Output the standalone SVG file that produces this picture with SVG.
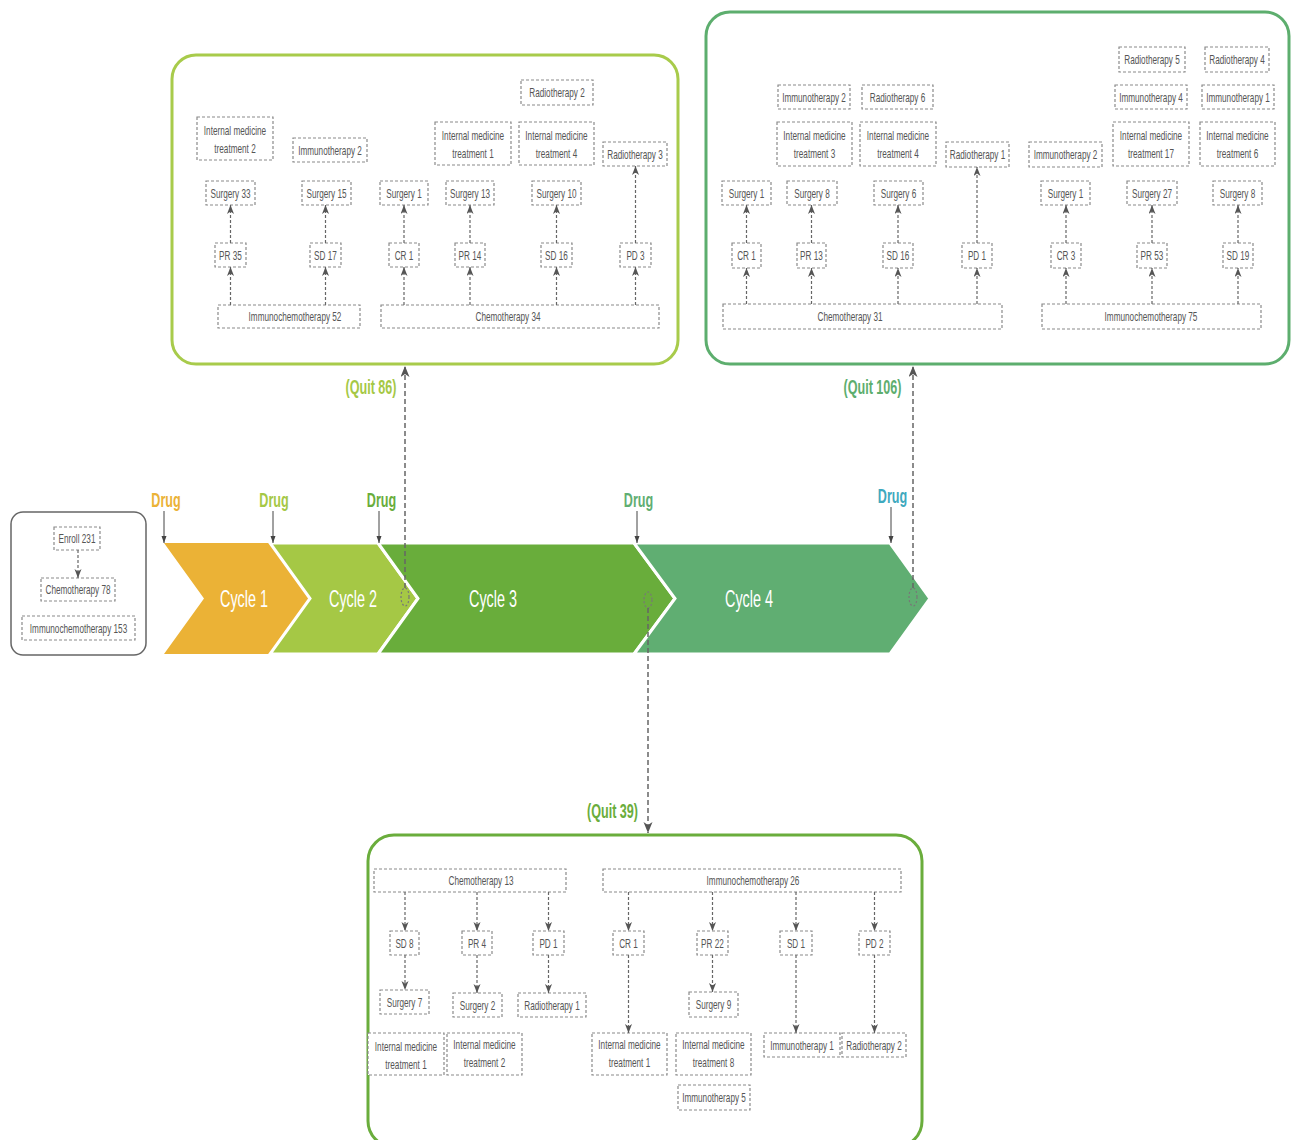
<svg xmlns="http://www.w3.org/2000/svg" width="1291" height="1140" viewBox="0 0 1291 1140">
<style>
.b{fill:#fff;stroke:#8a8a8a;stroke-width:1.2;stroke-dasharray:3 2}
.t{font-family:"Liberation Sans",Arial,sans-serif;font-size:13px;fill:#555;text-anchor:middle}
.bt{font-family:"Liberation Sans",Arial,sans-serif;font-size:20px;font-weight:bold;text-anchor:middle}
.cy{font-family:"Liberation Sans",Arial,sans-serif;font-size:24px;fill:#fff;text-anchor:middle}
.c{stroke:#666;stroke-width:1.2;stroke-dasharray:3 2;fill:none;marker-end:url(#a)}
.q{stroke:#666;stroke-width:1.5;stroke-dasharray:5 3;fill:none;marker-end:url(#qa)}
.d{stroke:#444;stroke-width:1;fill:none;marker-end:url(#da)}
.o{fill:none;stroke:#777;stroke-width:1.2;stroke-dasharray:2 2}
.frame{fill:#fff;stroke-width:3}
</style>
<defs>
<marker id="a" markerUnits="userSpaceOnUse" markerWidth="10" markerHeight="8" refX="9" refY="3.5" orient="auto"><path d="M0,0 L9,3.5 L0,7 L2.5,3.5 z" fill="#555"/></marker>
<marker id="qa" markerUnits="userSpaceOnUse" markerWidth="12" markerHeight="10" refX="11" refY="4.5" orient="auto"><path d="M0,0 L11,4.5 L0,9 L3,4.5 z" fill="#555"/></marker>
<marker id="da" markerUnits="userSpaceOnUse" markerWidth="8" markerHeight="6" refX="7" refY="2.5" orient="auto"><path d="M0,0 L7,2.5 L0,5 z" fill="#444"/></marker>
</defs>
<rect width="1291" height="1140" fill="#fff"/>

<!-- frames -->
<rect id="frame-top-left" class="frame" x="172" y="55" width="506" height="309" rx="24" stroke="#A8CB4B"/>
<rect id="frame-top-right" class="frame" x="706" y="12" width="583" height="352" rx="24" stroke="#5DAE6E"/>
<rect id="frame-bottom" class="frame" x="368" y="835" width="554" height="312" rx="26" stroke="#6AAD3C"/>
<rect id="frame-enroll" x="11" y="512" width="135" height="143" rx="12" fill="#fff" stroke="#666" stroke-width="1.5"/>

<!-- chevrons -->
<g id="cycle1"><polygon points="164,543 269,543 309,598.5 269,654 164,654 204,598.5" fill="#EBB236"/><text class="cy" transform="translate(244 606.5) scale(.6 1)">Cycle 1</text></g>
<g id="cycle2"><polygon points="270,543 378,543 418,598.5 378,654 270,654 310,598.5" fill="#A5C845" stroke="#fff" stroke-width="3"/><text class="cy" transform="translate(353 606.5) scale(.6 1)">Cycle 2</text></g>
<g id="cycle3"><polygon points="378,543 634,543 675,598.5 634,654 378,654 418,598.5" fill="#69AD3B" stroke="#fff" stroke-width="3"/><text class="cy" transform="translate(493 606.5) scale(.6 1)">Cycle 3</text></g>
<g id="cycle4"><polygon points="634,543 890,543 930,598.5 890,654 634,654 675,598.5" fill="#60AE72" stroke="#fff" stroke-width="3"/><text class="cy" transform="translate(749 606.5) scale(.6 1)">Cycle 4</text></g>

<!-- drug labels -->
<g id="drug1"><text class="bt" fill="#EBB236" transform="translate(166 507) scale(.63 1)">Drug</text></g>
<g id="drug2"><text class="bt" fill="#A5C845" transform="translate(274 507) scale(.63 1)">Drug</text></g>
<g id="drug3"><text class="bt" fill="#69AD3B" transform="translate(381.5 507) scale(.63 1)">Drug</text></g>
<g id="drug4"><text class="bt" fill="#60AE72" transform="translate(638.5 507) scale(.63 1)">Drug</text></g>
<g id="drug5"><text class="bt" fill="#3FA9BE" transform="translate(892.5 503) scale(.63 1)">Drug</text></g>

<!-- quit labels and markers -->
<g id="quit86"><ellipse class="o" cx="405" cy="597" rx="4" ry="9"/><text class="bt" fill="#A5C845" transform="translate(371 394) scale(.63 1)">(Quit 86)</text></g>
<g id="quit106"><ellipse class="o" cx="913" cy="597" rx="4" ry="9"/><text class="bt" fill="#5DAE6E" transform="translate(872.5 394) scale(.63 1)">(Quit 106)</text></g>
<g id="quit39"><ellipse class="o" cx="648" cy="600" rx="4" ry="8"/><text class="bt" fill="#6AAD3C" transform="translate(612.5 818) scale(.63 1)">(Quit 39)</text></g>

<!-- enroll nodes -->
<g id="enroll"><rect class="b" x="54" y="527" width="46" height="23"/><text class="t" transform="translate(77 543) scale(.63 1)">Enroll 231</text></g>
<g id="enroll-chemo"><rect class="b" x="41" y="578" width="74" height="23"/><text class="t" transform="translate(78 594) scale(.63 1)">Chemotherapy 78</text></g>
<g id="enroll-immunochemo"><rect class="b" x="22" y="616" width="113" height="24"/><text class="t" transform="translate(78.5 632.5) scale(.63 1)">Immunochemotherapy 153</text></g>

<!-- top-left nodes -->
<g id="tl-imt2"><rect class="b" x="197" y="117" width="76" height="43"/><text class="t" transform="translate(235 135) scale(.63 1)">Internal medicine</text><text class="t" transform="translate(235 153) scale(.63 1)">treatment 2</text></g>
<g id="tl-immuno2"><rect class="b" x="293" y="138" width="74" height="24"/><text class="t" transform="translate(330 154.5) scale(.63 1)">Immunotherapy 2</text></g>
<g id="tl-rad2"><rect class="b" x="521" y="80" width="72" height="25"/><text class="t" transform="translate(557 97) scale(.63 1)">Radiotherapy 2</text></g>
<g id="tl-imt1"><rect class="b" x="435" y="122" width="76" height="43"/><text class="t" transform="translate(473 140) scale(.63 1)">Internal medicine</text><text class="t" transform="translate(473 158) scale(.63 1)">treatment 1</text></g>
<g id="tl-imt4"><rect class="b" x="519" y="122" width="75" height="43"/><text class="t" transform="translate(556.5 140) scale(.63 1)">Internal medicine</text><text class="t" transform="translate(556.5 158) scale(.63 1)">treatment 4</text></g>
<g id="tl-rad3"><rect class="b" x="603" y="142" width="64" height="24"/><text class="t" transform="translate(635 158.5) scale(.63 1)">Radiotherapy 3</text></g>
<g id="tl-s33"><rect class="b" x="206" y="181" width="49" height="24"/><text class="t" transform="translate(230.5 197.5) scale(.63 1)">Surgery 33</text></g>
<g id="tl-s15"><rect class="b" x="302" y="181" width="49" height="24"/><text class="t" transform="translate(326.5 197.5) scale(.63 1)">Surgery 15</text></g>
<g id="tl-s1"><rect class="b" x="380" y="181" width="48" height="24"/><text class="t" transform="translate(404 197.5) scale(.63 1)">Surgery 1</text></g>
<g id="tl-s13"><rect class="b" x="446" y="181" width="48" height="24"/><text class="t" transform="translate(470 197.5) scale(.63 1)">Surgery 13</text></g>
<g id="tl-s10"><rect class="b" x="532" y="181" width="49" height="24"/><text class="t" transform="translate(556.5 197.5) scale(.63 1)">Surgery 10</text></g>
<g id="tl-pr35"><rect class="b" x="215" y="243" width="31" height="24"/><text class="t" transform="translate(230.5 259.5) scale(.63 1)">PR 35</text></g>
<g id="tl-sd17"><rect class="b" x="310" y="243" width="31" height="24"/><text class="t" transform="translate(325.5 259.5) scale(.63 1)">SD 17</text></g>
<g id="tl-cr1"><rect class="b" x="389" y="243" width="30" height="24"/><text class="t" transform="translate(404 259.5) scale(.63 1)">CR 1</text></g>
<g id="tl-pr14"><rect class="b" x="455" y="243" width="30" height="24"/><text class="t" transform="translate(470 259.5) scale(.63 1)">PR 14</text></g>
<g id="tl-sd16"><rect class="b" x="541" y="243" width="31" height="24"/><text class="t" transform="translate(556.5 259.5) scale(.63 1)">SD 16</text></g>
<g id="tl-pd3"><rect class="b" x="620" y="243" width="31" height="24"/><text class="t" transform="translate(635.5 259.5) scale(.63 1)">PD 3</text></g>
<g id="tl-immunochemo52"><rect class="b" x="218" y="305" width="142" height="23"/><text class="t" transform="translate(295 321) scale(.63 1)">Immunochemotherapy 52</text></g>
<g id="tl-chemo34"><rect class="b" x="381" y="305" width="278" height="23"/><text class="t" transform="translate(508 321) scale(.63 1)">Chemotherapy 34</text></g>

<!-- top-right nodes -->
<g id="tr-immuno2a"><rect class="b" x="778" y="85" width="72" height="24"/><text class="t" transform="translate(814 101.5) scale(.63 1)">Immunotherapy 2</text></g>
<g id="tr-rad6"><rect class="b" x="862" y="85" width="71" height="24"/><text class="t" transform="translate(897.5 101.5) scale(.63 1)">Radiotherapy 6</text></g>
<g id="tr-imt3"><rect class="b" x="777" y="122" width="75" height="44"/><text class="t" transform="translate(814.5 140) scale(.63 1)">Internal medicine</text><text class="t" transform="translate(814.5 158) scale(.63 1)">treatment 3</text></g>
<g id="tr-imt4"><rect class="b" x="860" y="122" width="76" height="44"/><text class="t" transform="translate(898 140) scale(.63 1)">Internal medicine</text><text class="t" transform="translate(898 158) scale(.63 1)">treatment 4</text></g>
<g id="tr-rad1"><rect class="b" x="946" y="142" width="63" height="25"/><text class="t" transform="translate(977.5 159) scale(.63 1)">Radiotherapy 1</text></g>
<g id="tr-immuno2b"><rect class="b" x="1029" y="142" width="73" height="25"/><text class="t" transform="translate(1065.5 159) scale(.63 1)">Immunotherapy 2</text></g>
<g id="tr-rad5"><rect class="b" x="1119" y="47" width="66" height="25"/><text class="t" transform="translate(1152 64) scale(.63 1)">Radiotherapy 5</text></g>
<g id="tr-rad4"><rect class="b" x="1205" y="47" width="64" height="25"/><text class="t" transform="translate(1237 64) scale(.63 1)">Radiotherapy 4</text></g>
<g id="tr-immuno4"><rect class="b" x="1115" y="85" width="72" height="24"/><text class="t" transform="translate(1151 101.5) scale(.63 1)">Immunotherapy 4</text></g>
<g id="tr-immuno1"><rect class="b" x="1202" y="85" width="72" height="24"/><text class="t" transform="translate(1238 101.5) scale(.63 1)">Immunotherapy 1</text></g>
<g id="tr-imt17"><rect class="b" x="1113" y="122" width="76" height="44"/><text class="t" transform="translate(1151 140) scale(.63 1)">Internal medicine</text><text class="t" transform="translate(1151 158) scale(.63 1)">treatment 17</text></g>
<g id="tr-imt6"><rect class="b" x="1200" y="122" width="75" height="44"/><text class="t" transform="translate(1237.5 140) scale(.63 1)">Internal medicine</text><text class="t" transform="translate(1237.5 158) scale(.63 1)">treatment 6</text></g>
<g id="tr-s1a"><rect class="b" x="722" y="181" width="49" height="24"/><text class="t" transform="translate(746.5 197.5) scale(.63 1)">Surgery 1</text></g>
<g id="tr-s8a"><rect class="b" x="787" y="181" width="50" height="24"/><text class="t" transform="translate(812 197.5) scale(.63 1)">Surgery 8</text></g>
<g id="tr-s6"><rect class="b" x="874" y="181" width="49" height="24"/><text class="t" transform="translate(898.5 197.5) scale(.63 1)">Surgery 6</text></g>
<g id="tr-s1b"><rect class="b" x="1041" y="181" width="49" height="24"/><text class="t" transform="translate(1065.5 197.5) scale(.63 1)">Surgery 1</text></g>
<g id="tr-s27"><rect class="b" x="1127" y="181" width="50" height="24"/><text class="t" transform="translate(1152 197.5) scale(.63 1)">Surgery 27</text></g>
<g id="tr-s8b"><rect class="b" x="1213" y="181" width="49" height="24"/><text class="t" transform="translate(1237.5 197.5) scale(.63 1)">Surgery 8</text></g>
<g id="tr-cr1"><rect class="b" x="732" y="243" width="29" height="25"/><text class="t" transform="translate(746.5 260) scale(.63 1)">CR 1</text></g>
<g id="tr-pr13"><rect class="b" x="797" y="243" width="29" height="25"/><text class="t" transform="translate(811.5 260) scale(.63 1)">PR 13</text></g>
<g id="tr-sd16"><rect class="b" x="883" y="243" width="30" height="25"/><text class="t" transform="translate(898 260) scale(.63 1)">SD 16</text></g>
<g id="tr-pd1"><rect class="b" x="962" y="243" width="30" height="25"/><text class="t" transform="translate(977 260) scale(.63 1)">PD 1</text></g>
<g id="tr-cr3"><rect class="b" x="1051" y="243" width="30" height="25"/><text class="t" transform="translate(1066 260) scale(.63 1)">CR 3</text></g>
<g id="tr-pr53"><rect class="b" x="1137" y="243" width="30" height="25"/><text class="t" transform="translate(1152 260) scale(.63 1)">PR 53</text></g>
<g id="tr-sd19"><rect class="b" x="1223" y="243" width="30" height="25"/><text class="t" transform="translate(1238 260) scale(.63 1)">SD 19</text></g>
<g id="tr-chemo31"><rect class="b" x="723" y="304" width="279" height="25"/><text class="t" transform="translate(850 321) scale(.63 1)">Chemotherapy 31</text></g>
<g id="tr-immunochemo75"><rect class="b" x="1042" y="304" width="219" height="25"/><text class="t" transform="translate(1151 321) scale(.63 1)">Immunochemotherapy 75</text></g>

<!-- bottom nodes -->
<g id="b-chemo13"><rect class="b" x="374" y="869" width="192" height="23"/><text class="t" transform="translate(481 885) scale(.63 1)">Chemotherapy 13</text></g>
<g id="b-immunochemo26"><rect class="b" x="603" y="869" width="298" height="23"/><text class="t" transform="translate(753 885) scale(.63 1)">Immunochemotherapy 26</text></g>
<g id="b-sd8"><rect class="b" x="390" y="931" width="29" height="24"/><text class="t" transform="translate(404.5 947.5) scale(.63 1)">SD 8</text></g>
<g id="b-pr4"><rect class="b" x="462" y="931" width="30" height="24"/><text class="t" transform="translate(477 947.5) scale(.63 1)">PR 4</text></g>
<g id="b-pd1"><rect class="b" x="533" y="931" width="31" height="24"/><text class="t" transform="translate(548.5 947.5) scale(.63 1)">PD 1</text></g>
<g id="b-cr1"><rect class="b" x="613" y="931" width="31" height="24"/><text class="t" transform="translate(628.5 947.5) scale(.63 1)">CR 1</text></g>
<g id="b-pr22"><rect class="b" x="697" y="931" width="31" height="24"/><text class="t" transform="translate(712.5 947.5) scale(.63 1)">PR 22</text></g>
<g id="b-sd1"><rect class="b" x="780" y="931" width="32" height="24"/><text class="t" transform="translate(796 947.5) scale(.63 1)">SD 1</text></g>
<g id="b-pd2"><rect class="b" x="859" y="931" width="31" height="24"/><text class="t" transform="translate(874.5 947.5) scale(.63 1)">PD 2</text></g>
<g id="b-s7"><rect class="b" x="380" y="990" width="49" height="24"/><text class="t" transform="translate(404.5 1006.5) scale(.63 1)">Surgery 7</text></g>
<g id="b-s2"><rect class="b" x="453" y="993" width="49" height="24"/><text class="t" transform="translate(477.5 1009.5) scale(.63 1)">Surgery 2</text></g>
<g id="b-rad1"><rect class="b" x="518" y="993" width="68" height="24"/><text class="t" transform="translate(552 1009.5) scale(.63 1)">Radiotherapy 1</text></g>
<g id="b-s9"><rect class="b" x="689" y="992" width="49" height="25"/><text class="t" transform="translate(713.5 1009) scale(.63 1)">Surgery 9</text></g>
<g id="b-imt1a"><rect class="b" x="368" y="1033" width="76" height="42"/><text class="t" transform="translate(406 1051) scale(.63 1)">Internal medicine</text><text class="t" transform="translate(406 1069) scale(.63 1)">treatment 1</text></g>
<g id="b-imt2"><rect class="b" x="447" y="1033" width="75" height="42"/><text class="t" transform="translate(484.5 1049) scale(.63 1)">Internal medicine</text><text class="t" transform="translate(484.5 1067) scale(.63 1)">treatment 2</text></g>
<g id="b-imt1b"><rect class="b" x="592" y="1033" width="75" height="42"/><text class="t" transform="translate(629.5 1049) scale(.63 1)">Internal medicine</text><text class="t" transform="translate(629.5 1067) scale(.63 1)">treatment 1</text></g>
<g id="b-imt8"><rect class="b" x="676" y="1033" width="75" height="42"/><text class="t" transform="translate(713.5 1049) scale(.63 1)">Internal medicine</text><text class="t" transform="translate(713.5 1067) scale(.63 1)">treatment 8</text></g>
<g id="b-immuno5"><rect class="b" x="678" y="1085" width="72" height="25"/><text class="t" transform="translate(714 1102) scale(.63 1)">Immunotherapy 5</text></g>
<g id="b-immuno1"><rect class="b" x="764" y="1033" width="76" height="24"/><text class="t" transform="translate(802 1049.5) scale(.63 1)">Immunotherapy 1</text></g>
<g id="b-rad2"><rect class="b" x="842" y="1033" width="64" height="24"/><text class="t" transform="translate(874 1049.5) scale(.63 1)">Radiotherapy 2</text></g>

<!-- connectors -->
<g id="connectors">
<line class="c" x1="78" y1="550" x2="78" y2="578"/>
<!-- top-left -->
<line class="c" x1="230.5" y1="305" x2="230.5" y2="267"/>
<line class="c" x1="230.5" y1="243" x2="230.5" y2="205"/>
<line class="c" x1="325.5" y1="305" x2="325.5" y2="267"/>
<line class="c" x1="325.5" y1="243" x2="325.5" y2="205"/>
<line class="c" x1="404" y1="305" x2="404" y2="267"/>
<line class="c" x1="404" y1="243" x2="404" y2="205"/>
<line class="c" x1="470" y1="305" x2="470" y2="267"/>
<line class="c" x1="470" y1="243" x2="470" y2="205"/>
<line class="c" x1="556.5" y1="305" x2="556.5" y2="267"/>
<line class="c" x1="556.5" y1="243" x2="556.5" y2="205"/>
<line class="c" x1="635.5" y1="305" x2="635.5" y2="267"/>
<line class="c" x1="635.5" y1="243" x2="635.5" y2="166"/>
<!-- top-right -->
<line class="c" x1="746.5" y1="304" x2="746.5" y2="268"/>
<line class="c" x1="746.5" y1="243" x2="746.5" y2="205"/>
<line class="c" x1="811.5" y1="304" x2="811.5" y2="268"/>
<line class="c" x1="811.5" y1="243" x2="811.5" y2="205"/>
<line class="c" x1="898" y1="304" x2="898" y2="268"/>
<line class="c" x1="898" y1="243" x2="898" y2="205"/>
<line class="c" x1="977" y1="304" x2="977" y2="268"/>
<line class="c" x1="977" y1="243" x2="977" y2="167"/>
<line class="c" x1="1066" y1="304" x2="1066" y2="268"/>
<line class="c" x1="1066" y1="243" x2="1066" y2="205"/>
<line class="c" x1="1152" y1="304" x2="1152" y2="268"/>
<line class="c" x1="1152" y1="243" x2="1152" y2="205"/>
<line class="c" x1="1238" y1="304" x2="1238" y2="268"/>
<line class="c" x1="1238" y1="243" x2="1238" y2="205"/>
<!-- bottom -->
<line class="c" x1="405" y1="892" x2="405" y2="931"/>
<line class="c" x1="405" y1="955" x2="405" y2="990"/>
<line class="c" x1="477" y1="892" x2="477" y2="931"/>
<line class="c" x1="477" y1="955" x2="477" y2="993"/>
<line class="c" x1="548.5" y1="892" x2="548.5" y2="931"/>
<line class="c" x1="548.5" y1="955" x2="548.5" y2="993"/>
<line class="c" x1="628.5" y1="892" x2="628.5" y2="931"/>
<line class="c" x1="628.5" y1="955" x2="628.5" y2="1033"/>
<line class="c" x1="712.5" y1="892" x2="712.5" y2="931"/>
<line class="c" x1="712.5" y1="955" x2="712.5" y2="992"/>
<line class="c" x1="796" y1="892" x2="796" y2="931"/>
<line class="c" x1="796" y1="955" x2="796" y2="1033"/>
<line class="c" x1="874.5" y1="892" x2="874.5" y2="931"/>
<line class="c" x1="874.5" y1="955" x2="874.5" y2="1033"/>
<!-- drug arrows -->
<line class="d" x1="164" y1="511" x2="164" y2="543"/>
<line class="d" x1="273" y1="511" x2="273" y2="543"/>
<line class="d" x1="379" y1="511" x2="379" y2="543"/>
<line class="d" x1="637" y1="511" x2="637" y2="543"/>
<line class="d" x1="891" y1="507" x2="891" y2="543"/>
<!-- quit arrows -->
<line class="q" x1="405" y1="588" x2="405" y2="366"/>
<line class="q" x1="913" y1="588" x2="913" y2="366"/>
<line class="q" x1="648" y1="608" x2="648" y2="833"/>
</g>
</svg>
